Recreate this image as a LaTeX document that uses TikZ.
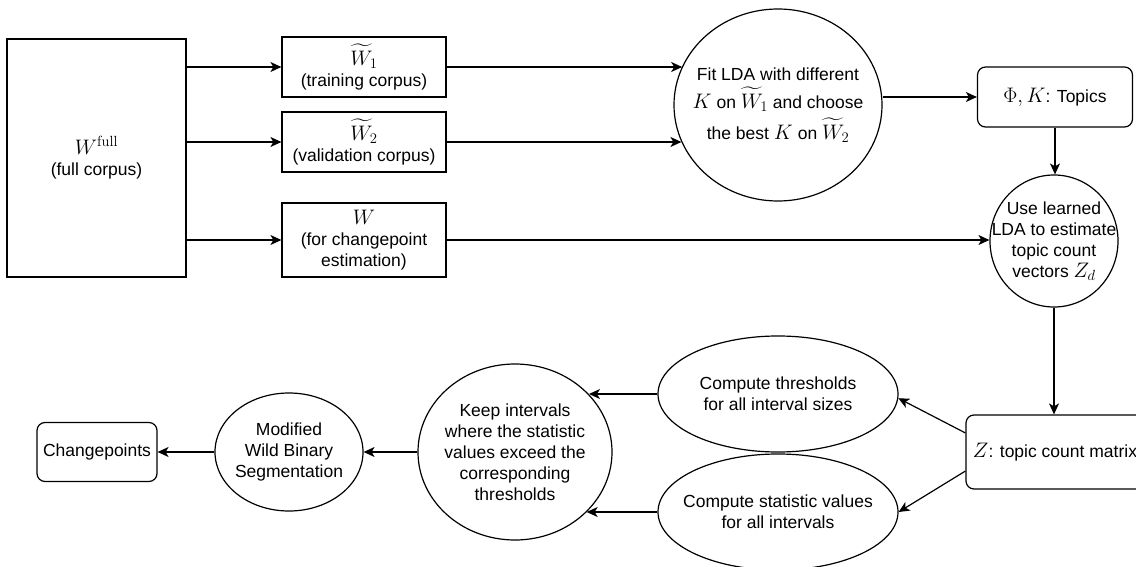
\documentclass[tikz,border=0pt]{standalone}
\usepackage{fix-cm}
\usepackage{amsmath}
\usepackage[no-math]{fontspec}
\setmainfont{Liberation Sans}
\usetikzlibrary{shapes.geometric,arrows.meta,calc}
\newcommand{\mth}[1]{{\fontsize{21}{21}\selectfont$#1$}}
\begin{document}
\begin{tikzpicture}[x=1pt,y=-1pt,line width=1.2pt,
  every node/.style={font=\fontsize{17.5}{21}\selectfont, align=center, inner sep=0pt},
  sq/.style={draw, rectangle},
  rbox/.style={draw, rectangle, rounded corners=8pt},
  ell/.style={draw, ellipse, inner sep=-60pt},
  arr/.style={-{Stealth[length=11pt,width=10pt,inset=3pt]}}]
\fill[white] (0,0) rectangle (1136,567);
\useasboundingbox (0,0) rectangle (1136,567);

\node[sq, minimum width=179pt, minimum height=238pt] (full) at (96.5,158) {\mth{W^{\mathrm{full}}}\\(full corpus)};
\node[sq, minimum width=164pt, minimum height=60pt] (w1) at (364,67) {\mth{\widetilde{W}_1}\\(training corpus)};
\node[sq, minimum width=164pt, minimum height=60pt] (w2) at (364,142) {\mth{\widetilde{W}_2}\\(validation corpus)};
\node[sq, minimum width=164pt, minimum height=74pt] (w) at (364,240) {\mth{W}\\(for changepoint\\estimation)};
\node[ell, minimum width=208pt, minimum height=192pt] (lda) at (778,105) {Fit LDA with different\\[6pt]\mth{K} on \mth{\widetilde{W}_1} and choose\\[6pt]the best \mth{K} on \mth{\widetilde{W}_2}};
\node[rbox, minimum width=155pt, minimum height=60pt] (phi) at (1055,97) {\mth{\Phi, K}: Topics};
\node[ell, minimum width=128pt, minimum height=132pt] (use) at (1054,241) {Use learned\\LDA to estimate\\topic count\\vectors \mth{Z_d}};
\node[rbox, minimum width=178pt, minimum height=74pt] (zb) at (1055,452) {\mth{Z}: topic count matrix};
\node[ell, minimum width=240pt, minimum height=116pt] (thr) at (778,394) {Compute thresholds\\for all interval sizes};
\node[ell, minimum width=240pt, minimum height=116pt] (stat) at (778,512) {Compute statistic values\\for all intervals};
\node[ell, minimum width=194pt, minimum height=176pt] (keep) at (515,452) {Keep intervals\\where the statistic\\values exceed the\\corresponding\\thresholds};
\node[ell, minimum width=148pt, minimum height=118pt] (wbs) at (289,452) {Modified\\Wild Binary\\Segmentation};
\node[rbox, minimum width=120pt, minimum height=59pt] (cp) at (97,452) {Changepoints};

\draw[arr] (full.east |- w1.west) -- (w1.west);
\draw[arr] (full.east |- w2.west) -- (w2.west);
\draw[arr] (full.east |- w.west) -- (w.west);
\draw[arr] (w1.east) -- (w1.east -| lda.158);
\draw[arr] (w2.east) -- (w2.east -| lda.201);
\draw[arr] (lda.east |- phi.west) -- (phi.west);
\draw[arr] (w.east) -- (w.east -| use.west);
\draw[arr] (phi.south) -- (phi.south |- use.north);
\draw[arr] (use.south) -- (use.south |- zb.north);
\draw[arr] (zb.168) -- (thr.358);
\draw[arr] (zb.192) -- (stat.east);
\draw[arr] (thr.west) -- (thr.west -| keep.38);
\draw[arr] (stat.west) -- (stat.west -| keep.320);
\draw[arr] (keep.west) -- (wbs.east);
\draw[arr] (wbs.west) -- (cp.east);
\end{tikzpicture}
\end{document}
